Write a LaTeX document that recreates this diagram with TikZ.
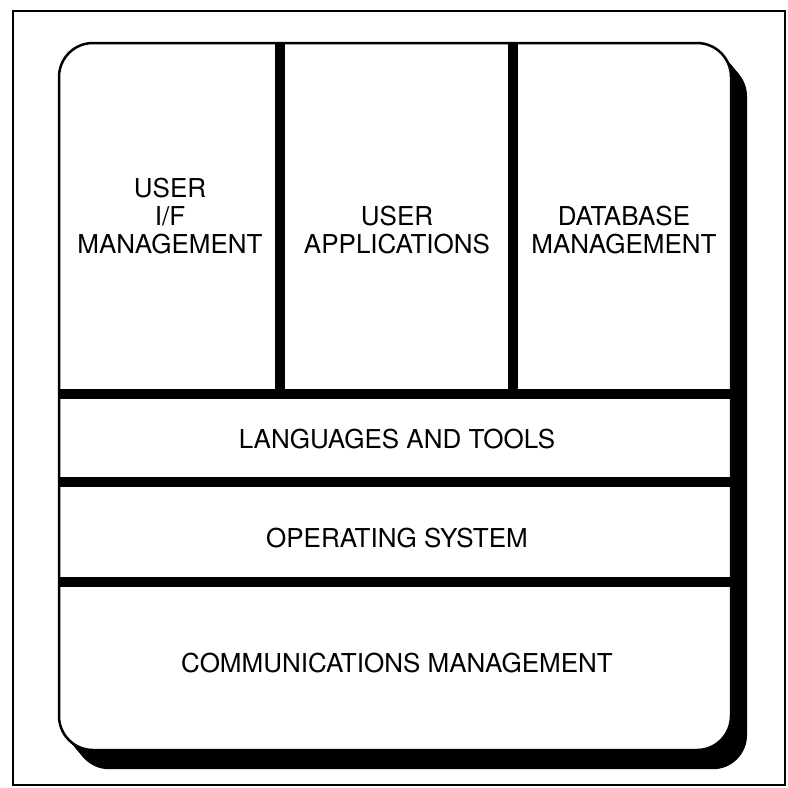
\documentclass[tikz,border=0pt]{standalone}
\usepackage{fontspec}
\setmainfont{TeX Gyre Heros}
\usetikzlibrary{positioning}
\tikzset{
  frame/.style={draw=black, line width=2pt},
  panel/.style={draw=black, fill=white, line width=2.5pt, rounded corners=34pt},
  shadowbox/.style={fill=black, rounded corners=34pt},
  divider/.style={draw=black, line width=10pt},
  layer/.style={font=\fontsize{26}{28}\selectfont, align=center, inner sep=0pt},
}

\begin{document}
\begin{tikzpicture}[x=1pt,y=-1pt]
  \useasboundingbox (0,0) rectangle (788,788);
  \draw[frame] (13,11) rectangle (785,785);
  % panel with its shadow
  \foreach \s in {0,2,...,16}{
    \fill[shadowbox] (59+\s,43+1.2*\s) rectangle (731+\s,750+1.2*\s);}
  \draw[panel] (59,43) rectangle (731,750);
  % dividers
  \draw[divider] (280,43) -- (280,394);
  \draw[divider] (513,43) -- (513,394);
  \foreach \y in {394,482,582}{
    \draw[divider] (59,\y) -- (731,\y);}
  % top row
  \node[layer] (uif) at (170,216) {USER\\I/F\\MANAGEMENT};
  \node[layer] (uapp) at (397,230) {USER\\APPLICATIONS};
  \node[layer] (dbm) at (624,230) {DATABASE\\MANAGEMENT};
  % layers
  \node[layer] (lang) at (397,439) {LANGUAGES AND TOOLS};
  \node[layer] (os) at (397,538) {OPERATING SYSTEM};
  \node[layer] (comm) at (397,663) {COMMUNICATIONS MANAGEMENT};
\end{tikzpicture}
\end{document}
